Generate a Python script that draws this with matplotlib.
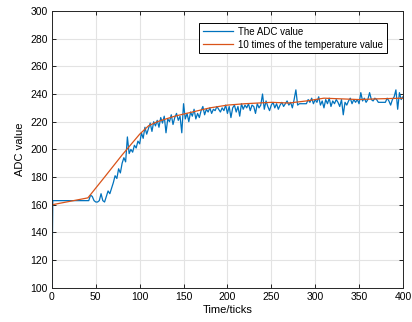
import matplotlib.pyplot as plt

# ADC readings
adc_x = [0, 1, 42, 44, 46, 48, 50, 52, 54] + list(range(56, 401, 2))
adc_y = ([100, 163, 163, 167, 166, 163, 162, 162, 163]
         + [168, 163, 162, 166, 170, 168, 172]
         + [176, 181, 179, 186, 183, 190, 194, 191, 209, 197, 200]
         + [198, 203, 201, 206, 204, 212, 208, 216, 211, 215, 219, 213, 220, 217, 221]
         + [216, 223, 219, 224, 212, 222, 220, 225, 218, 223, 226, 221, 224, 212, 233]
         + [222, 226, 220, 227, 224, 229, 222, 226, 223, 228, 231, 225, 229, 227, 230]
         + [226, 229, 228, 231, 229, 227, 230, 228, 232, 226, 231, 223, 230, 232, 227, 231]
         + [224, 233, 229, 232, 230, 233, 228, 232, 231, 226, 233, 230, 232, 240]
         + [229, 235, 231, 228, 232, 234, 230, 233, 229, 232, 234, 231, 233, 235, 232]
         + [234, 230, 236, 243, 232, 233, 233, 233, 233, 233, 236, 234, 237, 233, 236]
         + [234, 238, 232, 235, 230, 236, 233, 237, 231, 235, 233, 236, 234, 231, 236]
         + [225, 234, 232, 235, 237, 233, 236, 234, 236, 233, 241, 235, 237, 234, 236]
         + [241, 236, 235, 237, 236, 234, 234, 234, 234, 234, 237, 235, 232, 236, 238, 243, 229, 241, 236, 238])

# temperature x10
temp_x = [0, 41, 60, 80, 100, 110, 120, 140, 160, 180, 200, 220, 250, 270, 290, 310, 330, 350, 370, 400]
temp_y = [160, 165, 180, 196, 211, 217, 220, 224, 227, 230, 232, 233, 234, 233.5, 235, 237, 236.5, 236, 236.5, 237]

plt.rcParams['font.family'] = ['Liberation Sans', 'DejaVu Sans']

fig = plt.figure(figsize=(4.12, 3.22), dpi=100)
ax = fig.add_axes([0.126, 0.106, 0.852, 0.86])

ax.plot(adc_x, adc_y, color='#0072BD', lw=0.9, label='The ADC value')
ax.plot(temp_x, temp_y, color='#D95319', lw=0.9, label='10 times of the temperature value')

ax.set_xlim(0, 400)
ax.set_ylim(100, 300)
ax.set_xticks(range(0, 401, 50))
ax.set_yticks(range(100, 301, 20))
ax.tick_params(direction='in', top=True, right=True, labelsize=7.5, length=3, width=0.6, pad=3)
ax.grid(True, color='#e3e3e3', lw=0.8)
ax.set_axisbelow(True)
for s in ax.spines.values():
    s.set_color('#262626')
    s.set_linewidth(0.7)

ax.set_xlabel('Time/ticks', fontsize=8, labelpad=2)
ax.set_ylabel('ADC value', fontsize=8, labelpad=4)

leg = ax.legend(loc='upper right', bbox_to_anchor=(0.969, 0.975), fontsize=7, handlelength=3.1,
                fancybox=False, framealpha=1, borderpad=0.4, labelspacing=0.3, handletextpad=0.5)
leg.get_frame().set_edgecolor('black')
leg.get_frame().set_linewidth(0.7)

fig.savefig('out.png')
